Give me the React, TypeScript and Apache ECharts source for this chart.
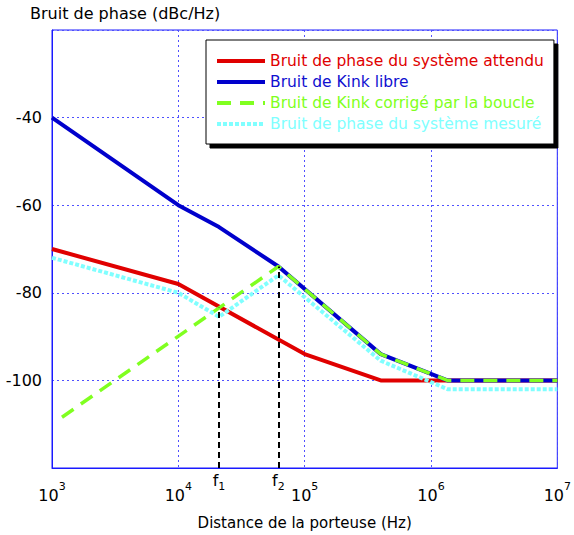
import React, { useEffect, useRef } from 'react';
import * as echarts from 'echarts';

const seriesNames = [
  'Bruit de phase du système attendu',
  'Bruit de Kink libre',
  'Bruit de Kink corrigé par la boucle',
  'Bruit de phase du système mesuré',
];
const seriesColors = ['#e00000', '#0000cc', '#80ff20', '#80ffff'];
const textColors = ['#e00000', '#1010d0', '#80ff20', '#80ffff'];

const redX = [1e3, 1e4, 1e5, 4e5, 1e7];
const redY = [-70, -78, -94, -100, -100];
const blueX = [1e3, 1e4, 2.1e4, 6.2e4, 4e5, 1.35e6, 1e7];
const blueY = [-40, -60, -65, -74, -94, -100, -100];
const greenX = [1.2e3, 6.2e4, 4e5, 1.35e6, 1e7];
const greenY = [-108.4, -74, -94, -100, -100];
const cyanX = [1e3, 1e4, 2.1e4, 6.2e4, 4e5, 1.35e6, 1e7];
const cyanY = [-72, -80, -85.5, -76, -95.5, -102, -102];

const markFreqs = [2.1e4, 6.2e4];
const markTops = [-83.4, -74];
const markLabels = ['1', '2'];

const yMin = -120;
const yMax = -20;
const yStep = 20;
const yLabelsShown = [-40, -60, -80, -100];

const FONT = '"DejaVu Sans", sans-serif';

const zip = (xs: number[], ys: number[]) => xs.map((x, i) => [x, ys[i]]);

export default function App() {
  const ref = useRef<HTMLDivElement>(null);
  useEffect(() => {
    if (!ref.current) return;
    const chart = echarts.init(ref.current, undefined, { renderer: 'svg' });
    const lineBase = { type: 'line', showSymbol: false, symbol: 'none', silent: true };
    chart.setOption({
      animation: false,
      backgroundColor: '#fff',
      textStyle: { fontFamily: FONT },
      grid: {
        left: 52,
        right: 11,
        top: 30,
        bottom: 64,
        show: true,
        borderColor: '#1a1aff',
        borderWidth: 1,
      },
      legend: {
        orient: 'vertical',
        left: 206,
        top: 40,
        padding: [13, 10, 12, 9],
        itemGap: 5,
        itemWidth: 48,
        itemHeight: 14,
        backgroundColor: '#fff',
        borderColor: '#000',
        borderWidth: 1,
        shadowColor: '#000',
        shadowBlur: 0,
        shadowOffsetX: 4,
        shadowOffsetY: 4,
        itemStyle: { opacity: 0, borderWidth: 0 },
        lineStyle: { width: 4 },
        textStyle: { fontSize: 15.5, fontFamily: FONT },
        data: seriesNames.map((n, i) => ({ name: n, textStyle: { color: textColors[i] } })),
      },
      xAxis: {
        type: 'log',
        logBase: 10,
        min: 1e3,
        max: 1e7,
        name: 'Distance de la porteuse (Hz)',
        nameLocation: 'middle',
        nameGap: 47,
        nameTextStyle: { fontSize: 15, color: '#000' },
        axisLine: { show: true, lineStyle: { color: '#1a1aff', width: 1 } },
        axisTick: { show: false },
        minorTick: { show: false },
        splitLine: { show: true, lineStyle: { color: '#5050ff', type: [2, 3], width: 1 } },
        axisLabel: {
          margin: 13,
          color: '#000',
          formatter: (v: number) => `{b|10}{s|${Math.round(Math.log10(v))}}`,
          rich: {
            b: { fontSize: 16, color: '#000', lineHeight: 22, verticalAlign: 'bottom' },
            s: { fontSize: 11, color: '#000', lineHeight: 12, verticalAlign: 'top' },
          },
        },
      },
      yAxis: {
        type: 'value',
        min: yMin,
        max: yMax,
        interval: yStep,
        name: 'Bruit de phase (dBc/Hz)',
        nameLocation: 'end',
        nameGap: 9,
        nameTextStyle: { fontSize: 16, color: '#000', align: 'left', padding: [0, 0, 0, -22] },
        axisLine: { show: true, lineStyle: { color: '#1a1aff', width: 1 } },
        axisTick: { show: false },
        splitLine: { show: true, lineStyle: { color: '#5050ff', type: [2, 3], width: 1 } },
        axisLabel: {
          margin: 10,
          fontSize: 16,
          color: '#000',
          formatter: (v: number) => (yLabelsShown.includes(v) ? String(v) : ''),
        },
      },
      series: [
        {
          ...lineBase,
          name: seriesNames[0],
          data: zip(redX, redY),
          color: seriesColors[0],
          lineStyle: { color: seriesColors[0], width: 4 },
        },
        {
          ...lineBase,
          name: seriesNames[1],
          data: zip(blueX, blueY),
          color: seriesColors[1],
          lineStyle: { color: seriesColors[1], width: 4 },
        },
        {
          ...lineBase,
          name: seriesNames[2],
          data: zip(greenX, greenY),
          color: seriesColors[2],
          lineStyle: { color: seriesColors[2], width: 3.5, type: [14, 9] },
        },
        {
          ...lineBase,
          name: seriesNames[3],
          data: zip(cyanX, cyanY),
          color: seriesColors[3],
          lineStyle: { color: seriesColors[3], width: 4, type: [4, 2] },
        },
        {
          ...lineBase,
          name: 'marks',
          data: [],
          markLine: {
            silent: true,
            symbol: 'none',
            lineStyle: { color: '#000', width: 2, type: [6, 4] },
            label: {
              show: true,
              position: 'start',
              distance: 4,
              color: '#000',
              rich: {
                f: { fontSize: 16, color: '#000', lineHeight: 20, verticalAlign: 'top' },
                sub: { fontSize: 11, color: '#000', lineHeight: 20, verticalAlign: 'bottom' },
              },
            },
            data: markFreqs.map((f, i) => [
              { coord: [f, yMin], label: { formatter: `{f|f}{sub|${markLabels[i]}}` } },
              { coord: [f, markTops[i]] },
            ]),
          },
        },
      ],
    });
    return () => chart.dispose();
  }, []);
  return (
    <div
      ref={ref}
      style={{ position: 'fixed', left: 0, top: 0, width: 574, height: 535 }}
    />
  );
}
